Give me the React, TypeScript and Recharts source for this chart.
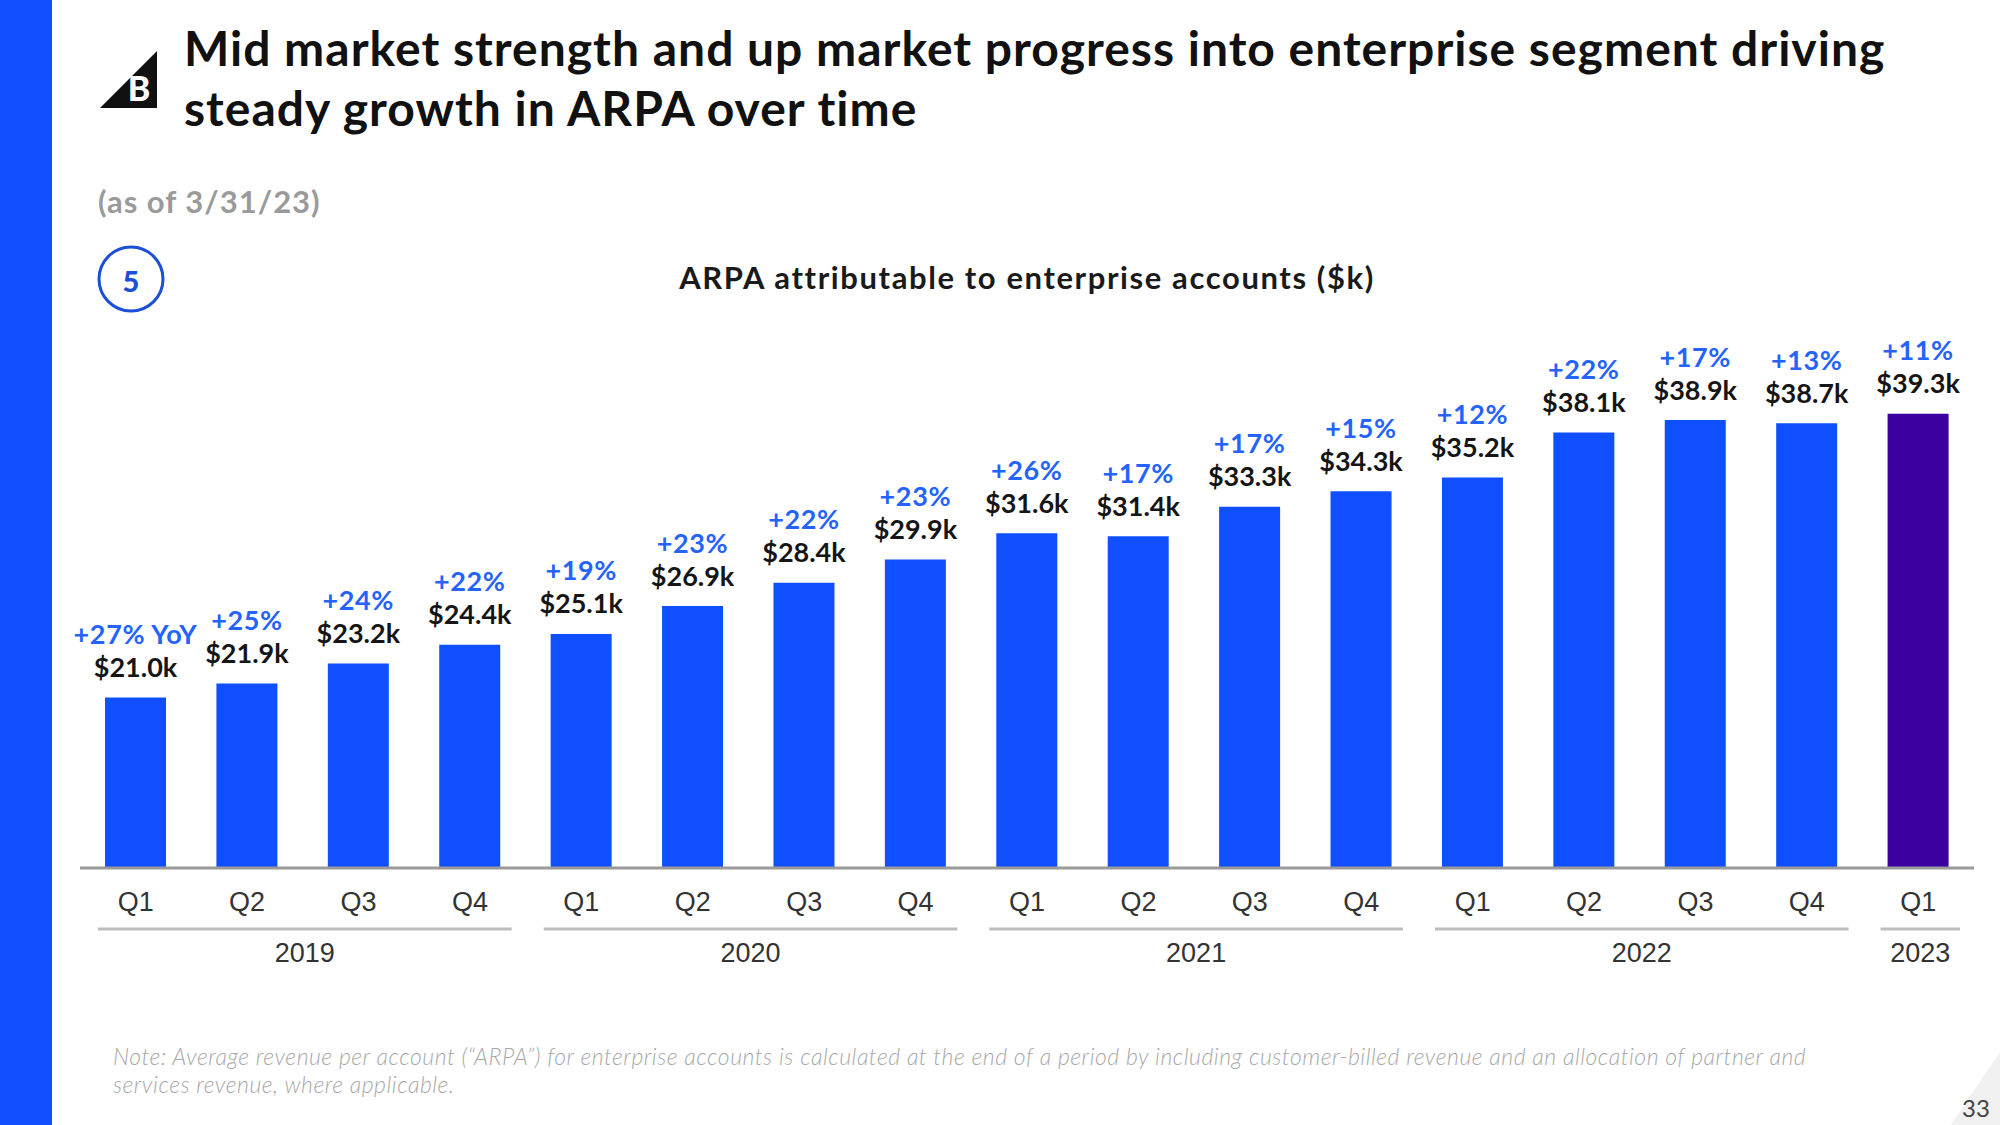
import { BarChart, Bar, XAxis, YAxis, Cell, LabelList } from 'recharts';

const quarters = ['Q1', 'Q2', 'Q3', 'Q4', 'Q1', 'Q2', 'Q3', 'Q4', 'Q1', 'Q2', 'Q3', 'Q4', 'Q1', 'Q2', 'Q3', 'Q4', 'Q1'];
const years = ['2019', '2019', '2019', '2019', '2020', '2020', '2020', '2020', '2021', '2021', '2021', '2021', '2022', '2022', '2022', '2022', '2023'];
const arpa = [21.0, 21.9, 23.2, 24.4, 25.1, 26.9, 28.4, 29.9, 31.6, 31.4, 33.3, 34.3, 35.2, 38.1, 38.9, 38.7, 39.3];
const growth = ['+27% YoY', '+25%', '+24%', '+22%', '+19%', '+23%', '+22%', '+23%', '+26%', '+17%', '+17%', '+15%', '+12%', '+22%', '+17%', '+13%', '+11%'];

const W = 2000;
const H = 1125;
const MARGIN = { top: 403, right: 26, bottom: 197, left: 80 };
const BAND = (W - MARGIN.left - MARGIN.right) / quarters.length;

const BLUE = '#0f4fff';
const PURPLE = '#3c00a0';
const PCT_BLUE = '#2563ff';
const FONT = 'Lato, "Open Sans", sans-serif';
const AXIS_FONT = '"Liberation Sans", Arial, sans-serif';

const data = quarters.map((q, i) => ({ q, year: years[i], v: arpa[i], pct: growth[i] }));

function QuarterTick(props: any) {
  const { x, y, payload, index } = props;
  const i = index ?? payload.index;
  const first = i === 0 || years[i - 1] !== years[i];
  let group = null;
  if (first) {
    const n = years.filter((yr) => yr === years[i]).length;
    const x1 = x - BAND / 2 + 18;
    const x2 = x - BAND / 2 + n * BAND - 14;
    group = (
      <g>
        <line x1={x1} x2={x2} y1={y + 53} y2={y + 53} stroke="#bdbdbd" strokeWidth={3} />
        <text x={(x1 + x2) / 2} y={y + 77} textAnchor="middle" dominantBaseline="central" fontFamily={AXIS_FONT} fontSize={27} fill="#333">
          {years[i]}
        </text>
      </g>
    );
  }
  return (
    <g>
      <text x={x} y={y + 26} textAnchor="middle" dominantBaseline="central" fontFamily={AXIS_FONT} fontSize={27} fill="#333">
        {payload.value}
      </text>
      {group}
    </g>
  );
}

function BarLabel(props: any) {
  const { x, y, width, index } = props;
  const cx = x + width / 2;
  return (
    <g>
      <text x={cx} y={y - 64} textAnchor="middle" dominantBaseline="central" fontFamily={FONT} fontWeight={700} fontSize={27} letterSpacing={0.6} fill={PCT_BLUE}>
        {growth[index]}
      </text>
      <text x={cx} y={y - 31} textAnchor="middle" dominantBaseline="central" fontFamily={FONT} fontWeight={700} fontSize={27} fill="#151515">
        {'$' + arpa[index].toFixed(1) + 'k'}
      </text>
    </g>
  );
}

export default function App() {
  return (
    <div style={{ position: 'absolute', left: 0, top: 0, width: W, height: H, background: '#fff', overflow: 'hidden' }}>
      <BarChart width={W} height={H} data={data} margin={MARGIN}>
        <XAxis
          dataKey="q"
          interval={0}
          height={60}
          tickLine={false}
          axisLine={{ stroke: '#9a9a9a', strokeWidth: 3 }}
          tick={<QuarterTick />}
        />
        <YAxis hide width={0} domain={[10, 40]} />
        <Bar dataKey="v" barSize={61} isAnimationActive={false}>
          {data.map((_, i) => (
            <Cell key={`c-${i}`} fill={i === data.length - 1 ? PURPLE : BLUE} />
          ))}
          <LabelList dataKey="v" content={<BarLabel />} />
        </Bar>
      </BarChart>

      <svg width={W} height={H} style={{ position: 'absolute', left: 0, top: 0, pointerEvents: 'none' }}>
        {/* left brand strip */}
        <rect x={0} y={0} width={52} height={H} fill={BLUE} />
        {/* logo */}
        <polygon points="100,108 157,108 157,51" fill="#111" />
        <text x={139} y={101} textAnchor="middle" fontFamily={FONT} fontWeight={900} fontSize={34} fill="#fff">B</text>

        <text x={184} y={66} fontFamily={FONT} fontWeight={700} fontSize={48} letterSpacing={1} fill="#111">
          Mid market strength and up market progress into enterprise segment driving
        </text>
        <text x={184} y={126} fontFamily={FONT} fontWeight={700} fontSize={48} letterSpacing={1} fill="#111">
          steady growth in ARPA over time
        </text>

        <text x={98} y={201} dominantBaseline="central" fontFamily={FONT} fontWeight={700} fontSize={31} letterSpacing={1} fill="#9a9a9a">
          (as of 3/31/23)
        </text>

        <circle cx={131} cy={279} r={32} fill="none" stroke="#1c4fd8" strokeWidth={3} />
        <text x={131} y={280} textAnchor="middle" dominantBaseline="central" fontFamily={FONT} fontWeight={900} fontSize={29} fill="#1c4fd8">5</text>

        <text x={1027} y={277} textAnchor="middle" dominantBaseline="central" fontFamily={FONT} fontWeight={700} fontSize={31} letterSpacing={1.6} fill="#1a1a1a">
          ARPA attributable to enterprise accounts ($k)
        </text>

        <text x={113} y={1056} dominantBaseline="central" fontFamily={FONT} fontStyle="italic" fontWeight={300} fontSize={23} letterSpacing={0.5} fill="#a8a8a8">
          Note: Average revenue per account (“ARPA”) for enterprise accounts is calculated at the end of a period by including customer-billed revenue and an allocation of partner and
        </text>
        <text x={113} y={1084} dominantBaseline="central" fontFamily={FONT} fontStyle="italic" fontWeight={300} fontSize={23} letterSpacing={0.5} fill="#a8a8a8">
          services revenue, where applicable.
        </text>

        <polygon points="1951,1125 2000,1052 2000,1125" fill="#f0f0f0" />
        <text x={1976} y={1107} textAnchor="middle" dominantBaseline="central" fontFamily={FONT} fontSize={24} fill="#444">33</text>
      </svg>
    </div>
  );
}
